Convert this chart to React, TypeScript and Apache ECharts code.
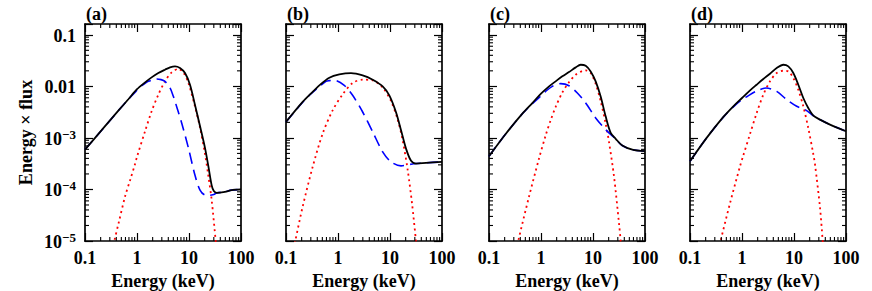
import { useEffect, useRef } from 'react';
import * as echarts from 'echarts';

// ---- tick values / labels ----
const X_TICK_LABELS = ['0.1', '1', '10', '100']; // decades 10^-1 .. 10^2
const Y_TICK_LABELS: Record<string, [string, string]> = {
  '-5': ['10', '−5'],
  '-4': ['10', '−4'],
  '-3': ['10', '−3'],
  '-2': ['0.01', ''],
  '-1': ['0.1', ''],
};
const X_MINOR = [0.2, 0.3, 0.4, 0.5, 0.6, 0.7, 0.8, 0.9, 2, 3, 4, 5, 6, 7, 8, 9, 20, 30, 40, 50, 60, 70, 80, 90];
const Y_MINOR = [
  2e-5, 3e-5, 4e-5, 5e-5, 6e-5, 7e-5, 8e-5, 9e-5,
  2e-4, 3e-4, 4e-4, 5e-4, 6e-4, 7e-4, 8e-4, 9e-4,
  2e-3, 3e-3, 4e-3, 5e-3, 6e-3, 7e-3, 8e-3, 9e-3,
  0.02, 0.03, 0.04, 0.05, 0.06, 0.07, 0.08, 0.09,
];
const PANEL_LABELS = ['(a)', '(b)', '(c)', '(d)'];
const X_NAME = 'Energy (keV)';
const Y_NAME = 'Energy × flux';

// ---- panel (a) ----
const A_BLACK_E = [0.1, 0.209, 0.438, 0.681, 1, 1.43, 1.91, 2.57, 3.45, 4.32, 5.38, 6.71, 8.38, 10.45, 13, 16.3, 20.3, 23.6, 27.3, 30, 34, 49, 66, 100];
const A_BLACK = [5.94e-4, 1.41e-3, 3.37e-3, 5.62e-3, 8.8e-3, 0.01194, 0.01493, 0.01811, 0.02104, 0.02333, 0.02438, 0.02265, 0.01811, 0.01076, 4.42e-3, 1.683e-3, 6.4e-4, 2.8e-4, 1.2e-4, 9.3e-5, 8.6e-5, 9.0e-5, 9.7e-5, 1.0e-4];
const A_BLUE_E = [0.1, 0.209, 0.438, 0.681, 1, 1.2, 1.43, 1.65, 2.0, 2.39, 2.9, 3.45, 4.32, 5.0, 6.0, 7.23, 9.7, 13, 16.3, 20.3, 25, 30, 34, 49, 66, 100];
const A_BLUE = [5.94e-4, 1.41e-3, 3.37e-3, 5.6e-3, 8.4e-3, 0.0101, 0.0115, 0.0125, 0.0134, 0.01387, 0.0135, 0.0125, 9.3e-3, 6.4e-3, 3.6e-3, 1.95e-3, 6.5e-4, 1.9e-4, 9.7e-5, 7.8e-5, 7.7e-5, 8.0e-5, 8.5e-5, 9.0e-5, 9.7e-5, 1.0e-4];
const A_RED_E = [0.33, 0.366, 0.45, 0.587, 0.75, 0.916, 1.0, 1.43, 1.91, 2.57, 3.45, 4.65, 6.26, 7.8, 9.7, 13, 16.3, 20.3, 23.6, 27.3, 32.6, 35];
const A_RED = [6.6e-6, 1.01e-5, 2.38e-5, 7.2e-5, 1.6e-4, 3.1e-4, 4.3e-4, 1.35e-3, 3.28e-3, 6.9e-3, 0.0125, 0.01866, 0.0218, 0.0185, 0.0118, 4.1e-3, 1.58e-3, 4.9e-4, 1.82e-4, 6.2e-5, 1.01e-5, 4.9e-6];

// ---- panel (b) ----
const B_BLACK_E = [0.1, 0.209, 0.3, 0.438, 0.681, 1.06, 1.78, 2.98, 4.65, 7.23, 9.7, 13, 16.3, 20.3, 25.4, 31.6, 49.2, 100];
const B_BLACK = [2.04e-3, 4.98e-3, 7.2e-3, 0.01045, 0.01472, 0.01706, 0.01811, 0.01633, 0.01346, 0.01, 6.7e-3, 3.18e-3, 1.41e-3, 6.22e-4, 3.59e-4, 3.18e-4, 3.28e-4, 3.43e-4];
const B_BLUE_E = [0.1, 0.209, 0.3, 0.438, 0.587, 0.68, 0.851, 1.32, 1.91, 2.98, 4.65, 7.23, 10.45, 16.3, 25.4, 31.6, 49.2, 100];
const B_BLUE = [2.04e-3, 4.9e-3, 7.1e-3, 9.9e-3, 0.0125, 0.0129, 0.01306, 0.01045, 6.7e-3, 3.18e-3, 1.31e-3, 5.36e-4, 3.43e-4, 2.87e-4, 3.09e-4, 3.18e-4, 3.28e-4, 3.43e-4];
const B_RED_E = [0.14, 0.151, 0.209, 0.326, 0.507, 0.789, 1.23, 1.91, 2.98, 4.65, 7.23, 10.45, 14, 17.5, 21.9, 26.5, 31.6, 34];
const B_RED = [7e-6, 1.01e-5, 4.62e-5, 2.75e-4, 1.21e-3, 3.43e-3, 7.0e-3, 0.01161, 0.01346, 0.01306, 9.5e-3, 5.2e-3, 2.3e-3, 9.0e-4, 2.37e-4, 5.36e-5, 1.01e-5, 5.2e-6];

// ---- panel (c) ----
const C_BLACK_E = [0.1, 0.209, 0.438, 0.681, 1, 1.43, 1.91, 2.57, 3.45, 4.65, 5.79, 7.23, 9.02, 11.25, 14, 17.5, 21.9, 27.3, 36.6, 57, 100];
const C_BLACK = [4.42e-4, 1.194e-3, 2.96e-3, 4.75e-3, 7.21e-3, 0.01, 0.0125, 0.01563, 0.01892, 0.02333, 0.02624, 0.02512, 0.0195, 0.0125, 6.4e-3, 2.62e-3, 1.25e-3, 9.6e-4, 7.11e-4, 5.94e-4, 5.52e-4];
const C_BLUE_E = [0.1, 0.209, 0.438, 0.681, 0.96, 1.23, 1.65, 2.39, 3.45, 5.0, 7.23, 11.25, 17.5, 27.3, 36.6, 57, 100];
const C_BLUE = [4.42e-4, 1.19e-3, 2.94e-3, 4.6e-3, 6.3e-3, 8.0e-3, 0.01, 0.01127, 0.0103, 7.43e-3, 4.75e-3, 2.44e-3, 1.449e-3, 9.5e-4, 7.11e-4, 5.94e-4, 5.52e-4];
const C_RED_E = [0.34, 0.366, 0.587, 0.916, 1.23, 1.53, 1.91, 2.57, 3.45, 4.65, 6.26, 7.23, 9.02, 11.25, 14, 17.5, 20.3, 25.4, 31.6, 34, 35];
const C_RED = [6.5e-6, 1.01e-5, 7.2e-5, 3.98e-4, 1.12e-3, 2.19e-3, 3.98e-3, 7.59e-3, 0.01202, 0.01683, 0.01995, 0.02042, 0.01811, 0.01122, 5.25e-3, 1.905e-3, 8.38e-4, 1.76e-4, 2.2e-5, 1.01e-5, 6e-6];

// ---- panel (d) ----
const D_BLACK_E = [0.1, 0.209, 0.438, 0.681, 1, 1.43, 1.91, 2.57, 3.45, 4.65, 6.24, 7.78, 9.7, 12.1, 15.1, 18.8, 23.6, 31.6, 49.2, 100];
const D_BLACK = [3.53e-4, 1.0e-3, 2.55e-3, 4.1e-3, 5.94e-3, 8.37e-3, 0.01076, 0.01387, 0.01758, 0.02265, 0.02624, 0.02438, 0.01811, 0.01076, 5.94e-3, 3.81e-3, 2.7e-3, 2.26e-3, 1.81e-3, 1.346e-3];
const D_BLUE_E = [0.1, 0.209, 0.438, 0.681, 1, 1.23, 1.91, 2.9, 4.65, 7.23, 11.25, 16.3, 25.4, 31.6, 49.2, 100];
const D_BLUE = [3.53e-4, 1.0e-3, 2.53e-3, 4.0e-3, 5.55e-3, 6.3e-3, 8.1e-3, 9.29e-3, 8.0e-3, 5.52e-3, 4.1e-3, 3.53e-3, 2.55e-3, 2.26e-3, 1.81e-3, 1.346e-3];
const D_RED_E = [0.36, 0.389, 0.587, 0.916, 1.03, 1.43, 1.91, 2.57, 3.45, 4.65, 6.24, 7.78, 9.7, 12.1, 15.1, 18.8, 23.6, 25.4, 31.6, 35.6, 37];
const D_RED = [6.5e-6, 1.01e-5, 5.37e-5, 2.82e-4, 4.17e-4, 1.2e-3, 3.02e-3, 6.9e-3, 0.0125, 0.0181, 0.0201, 0.0195, 0.01449, 8.6e-3, 4.1e-3, 1.56e-3, 4.75e-4, 3.02e-4, 4.47e-5, 1.01e-5, 5.5e-6];

const zip = (xs: number[], ys: number[]) => xs.map((x, i) => [x, ys[i]]);

const PANELS = [
  { black: zip(A_BLACK_E, A_BLACK), blue: zip(A_BLUE_E, A_BLUE), red: zip(A_RED_E, A_RED) },
  { black: zip(B_BLACK_E, B_BLACK), blue: zip(B_BLUE_E, B_BLUE), red: zip(B_RED_E, B_RED) },
  { black: zip(C_BLACK_E, C_BLACK), blue: zip(C_BLUE_E, C_BLUE), red: zip(C_RED_E, C_RED) },
  { black: zip(D_BLACK_E, D_BLACK), blue: zip(D_BLUE_E, D_BLUE), red: zip(D_RED_E, D_RED) },
];

// ---- layout ----
const GRID_LEFT = [85, 286, 489, 690];
const GRID_TOP = 24;
const GRID_W = 156;
const GRID_H = 217;
const X_MIN = 0.1;
const X_MAX = 100;
const Y_MIN = 1e-5;
const Y_MAX = 0.162;

const FONT = 'Liberation Serif';
const FS = 18;
const textBase = { fontFamily: FONT, fontSize: FS, fontWeight: 'bold' as const, color: '#000' };

function decade(v: number): number | null {
  const l = Math.log10(v);
  const e = Math.round(l);
  return Math.abs(l - e) < 1e-6 ? e : null;
}

export default function App() {
  const ref = useRef<HTMLDivElement>(null);
  useEffect(() => {
    if (!ref.current) return;
    const chart = echarts.init(ref.current, undefined, { renderer: 'svg' });

    const axisCommon = {
      type: 'log' as const,
      logBase: 10,
      axisLine: { show: true, onZero: false, lineStyle: { color: '#000', width: 1.7 } },
      axisTick: { show: true, inside: true, length: 8, lineStyle: { color: '#000', width: 1.2 } },
      splitLine: { show: false },
      minorTick: { show: false },
      minorSplitLine: { show: false },
    };

    const grids: any[] = [];
    const xAxes: any[] = [];
    const yAxes: any[] = [];
    const series: any[] = [];
    const graphics: any[] = [];

    PANELS.forEach((p, i) => {
      grids.push({
        left: GRID_LEFT[i], top: GRID_TOP, width: GRID_W, height: GRID_H,
        containLabel: false, outerBoundsMode: 'none', show: false,
      });
      xAxes.push({
        ...axisCommon, gridIndex: i, position: 'bottom', min: X_MIN, max: X_MAX,
        axisLabel: {
          show: true, margin: 8, ...textBase,
          formatter: (v: number) => {
            const e = decade(v);
            return e === null ? '' : X_TICK_LABELS[e + 1] ?? '';
          },
        },
        name: X_NAME, nameLocation: 'middle', nameGap: 27,
        nameTextStyle: { ...textBase },
      });
      xAxes.push({
        ...axisCommon, gridIndex: i, position: 'top', min: X_MIN, max: X_MAX,
        axisLabel: { show: false },
      });
      yAxes.push({
        ...axisCommon, gridIndex: i, position: 'left', min: Y_MIN, max: Y_MAX,
        axisLabel: {
          show: i === 0, margin: 9, ...textBase,
          formatter: (v: number) => {
            const e = decade(v);
            if (e === null) return '';
            const lab = Y_TICK_LABELS[String(e)];
            if (!lab) return '';
            return lab[1] ? `{b|${lab[0]}}{s|${lab[1]}}` : `{b|${lab[0]}}`;
          },
          rich: {
            b: { ...textBase, lineHeight: 20, verticalAlign: 'bottom' },
            s: { fontFamily: FONT, fontSize: 13, fontWeight: 'bold', color: '#000', lineHeight: 12, verticalAlign: 'top' },
          },
        },
        name: i === 0 ? Y_NAME : '',
        nameLocation: 'middle', nameRotate: 90, nameGap: 50,
        nameTextStyle: { ...textBase },
      });
      yAxes.push({
        ...axisCommon, gridIndex: i, position: 'right', min: Y_MIN, max: Y_MAX,
        axisLabel: { show: false },
      });

      const xa = 2 * i;
      const ya = 2 * i;
      series.push({
        type: 'line', xAxisIndex: xa, yAxisIndex: ya, data: p.red, showSymbol: false,
        smooth: 0.3, clip: true, z: 2,
        lineStyle: { color: '#ff0000', width: 1.8, type: [2, 3.5] },
      });
      series.push({
        type: 'line', xAxisIndex: xa, yAxisIndex: ya, data: p.blue, showSymbol: false,
        smooth: 0.3, clip: true, z: 2,
        lineStyle: { color: '#0000ff', width: 1.6, type: [11, 6] },
      });
      series.push({
        type: 'line', xAxisIndex: xa, yAxisIndex: ya, data: p.black, showSymbol: false,
        smooth: 0.3, clip: true, z: 3,
        lineStyle: { color: '#000', width: 1.8 },
      });
      // minor ticks along x (bottom and top)
      series.push({
        type: 'custom', xAxisIndex: xa, yAxisIndex: ya, silent: true, z: 4,
        data: X_MINOR.map((v) => [v, 1e-3]),
        renderItem: (params: any, api: any) => {
          const cs = params.coordSys;
          const x = api.coord([api.value(0), 1e-3])[0];
          const yb = cs.y + cs.height;
          const yt = cs.y;
          return {
            type: 'group',
            children: [
              { type: 'line', shape: { x1: x, y1: yb, x2: x, y2: yb - 4 }, style: { stroke: '#000', lineWidth: 1.1 } },
              { type: 'line', shape: { x1: x, y1: yt, x2: x, y2: yt + 4 }, style: { stroke: '#000', lineWidth: 1.1 } },
            ],
          };
        },
      });
      // minor ticks along y (left and right)
      series.push({
        type: 'custom', xAxisIndex: xa, yAxisIndex: ya, silent: true, z: 4,
        data: Y_MINOR.map((v) => [1, v]),
        renderItem: (params: any, api: any) => {
          const cs = params.coordSys;
          const y = api.coord([1, api.value(1)])[1];
          const xl = cs.x;
          const xr = cs.x + cs.width;
          return {
            type: 'group',
            children: [
              { type: 'line', shape: { x1: xl, y1: y, x2: xl + 4, y2: y }, style: { stroke: '#000', lineWidth: 1.1 } },
              { type: 'line', shape: { x1: xr, y1: y, x2: xr - 4, y2: y }, style: { stroke: '#000', lineWidth: 1.1 } },
            ],
          };
        },
      });

      graphics.push({
        type: 'text', left: GRID_LEFT[i] + 1, top: 5,
        style: { text: PANEL_LABELS[i], fontFamily: FONT, fontSize: FS, fontWeight: 'bold', fill: '#000' },
      });
    });

    chart.setOption({
      animation: false,
      backgroundColor: '#fff',
      grid: grids,
      xAxis: xAxes,
      yAxis: yAxes,
      series,
      graphic: graphics,
    });
    return () => chart.dispose();
  }, []);
  return <div ref={ref} style={{ position: 'absolute', left: 0, top: 0, width: 872, height: 291 }} />;
}
